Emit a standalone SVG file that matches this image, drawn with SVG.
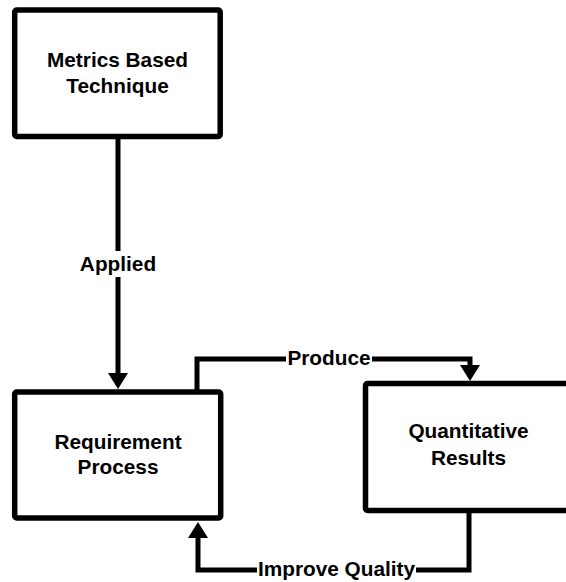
<svg xmlns="http://www.w3.org/2000/svg" width="566" height="582" viewBox="0 0 566 582">
<style>
.box{fill:#fff;stroke:#000;stroke-width:5.5}
.t{font-family:"Liberation Sans",Arial,sans-serif;font-weight:bold;font-size:20.8px;text-anchor:middle;fill:#000}
.ln{fill:none;stroke:#000;stroke-width:5}
.bg{fill:#fff}
</style>
<rect width="566" height="582" fill="#fff"/>
<g id="connectors">
<path class="ln" d="M118,139 L118,376"/>
<path class="ln" d="M197,392 L197,359 L470,359 L470,368"/>
<path class="ln" d="M469,513 L469,570 L198,570 L198,535"/>
<path d="M108,373 L128,373 L118,389 Z" fill="#000"/>
<path d="M460,365 L480,365 L470,381 Z" fill="#000"/>
<path d="M188,538 L208,538 L198,522 Z" fill="#000"/>
<g id="label-applied">
<rect class="bg" x="78" y="251" width="80" height="26"/>
<text class="t" x="118" y="271">Applied</text>
</g>
<g id="label-produce">
<rect class="bg" x="286" y="348" width="86" height="22"/>
<text class="t" x="329" y="365">Produce</text>
</g>
<g id="label-improve">
<rect class="bg" x="257" y="558" width="159" height="24"/>
<text class="t" x="336.5" y="576">Improve Quality</text>
</g>
</g>
<g id="metrics">
<rect class="box" x="14.7" y="10" width="205.5" height="126.5" rx="2"/>
<text class="t" x="117.5" y="67">Metrics Based</text>
<text class="t" x="117.5" y="93">Technique</text>
</g>
<g id="requirement">
<rect class="box" x="14.7" y="392" width="206" height="126" rx="2"/>
<text class="t" x="118" y="449">Requirement</text>
<text class="t" x="118" y="474">Process</text>
</g>
<g id="quantitative">
<rect class="box" x="365.5" y="383.5" width="206" height="127" rx="2"/>
<text class="t" x="468.5" y="438">Quantitative</text>
<text class="t" x="468.5" y="465">Results</text>
</g>
</svg>
